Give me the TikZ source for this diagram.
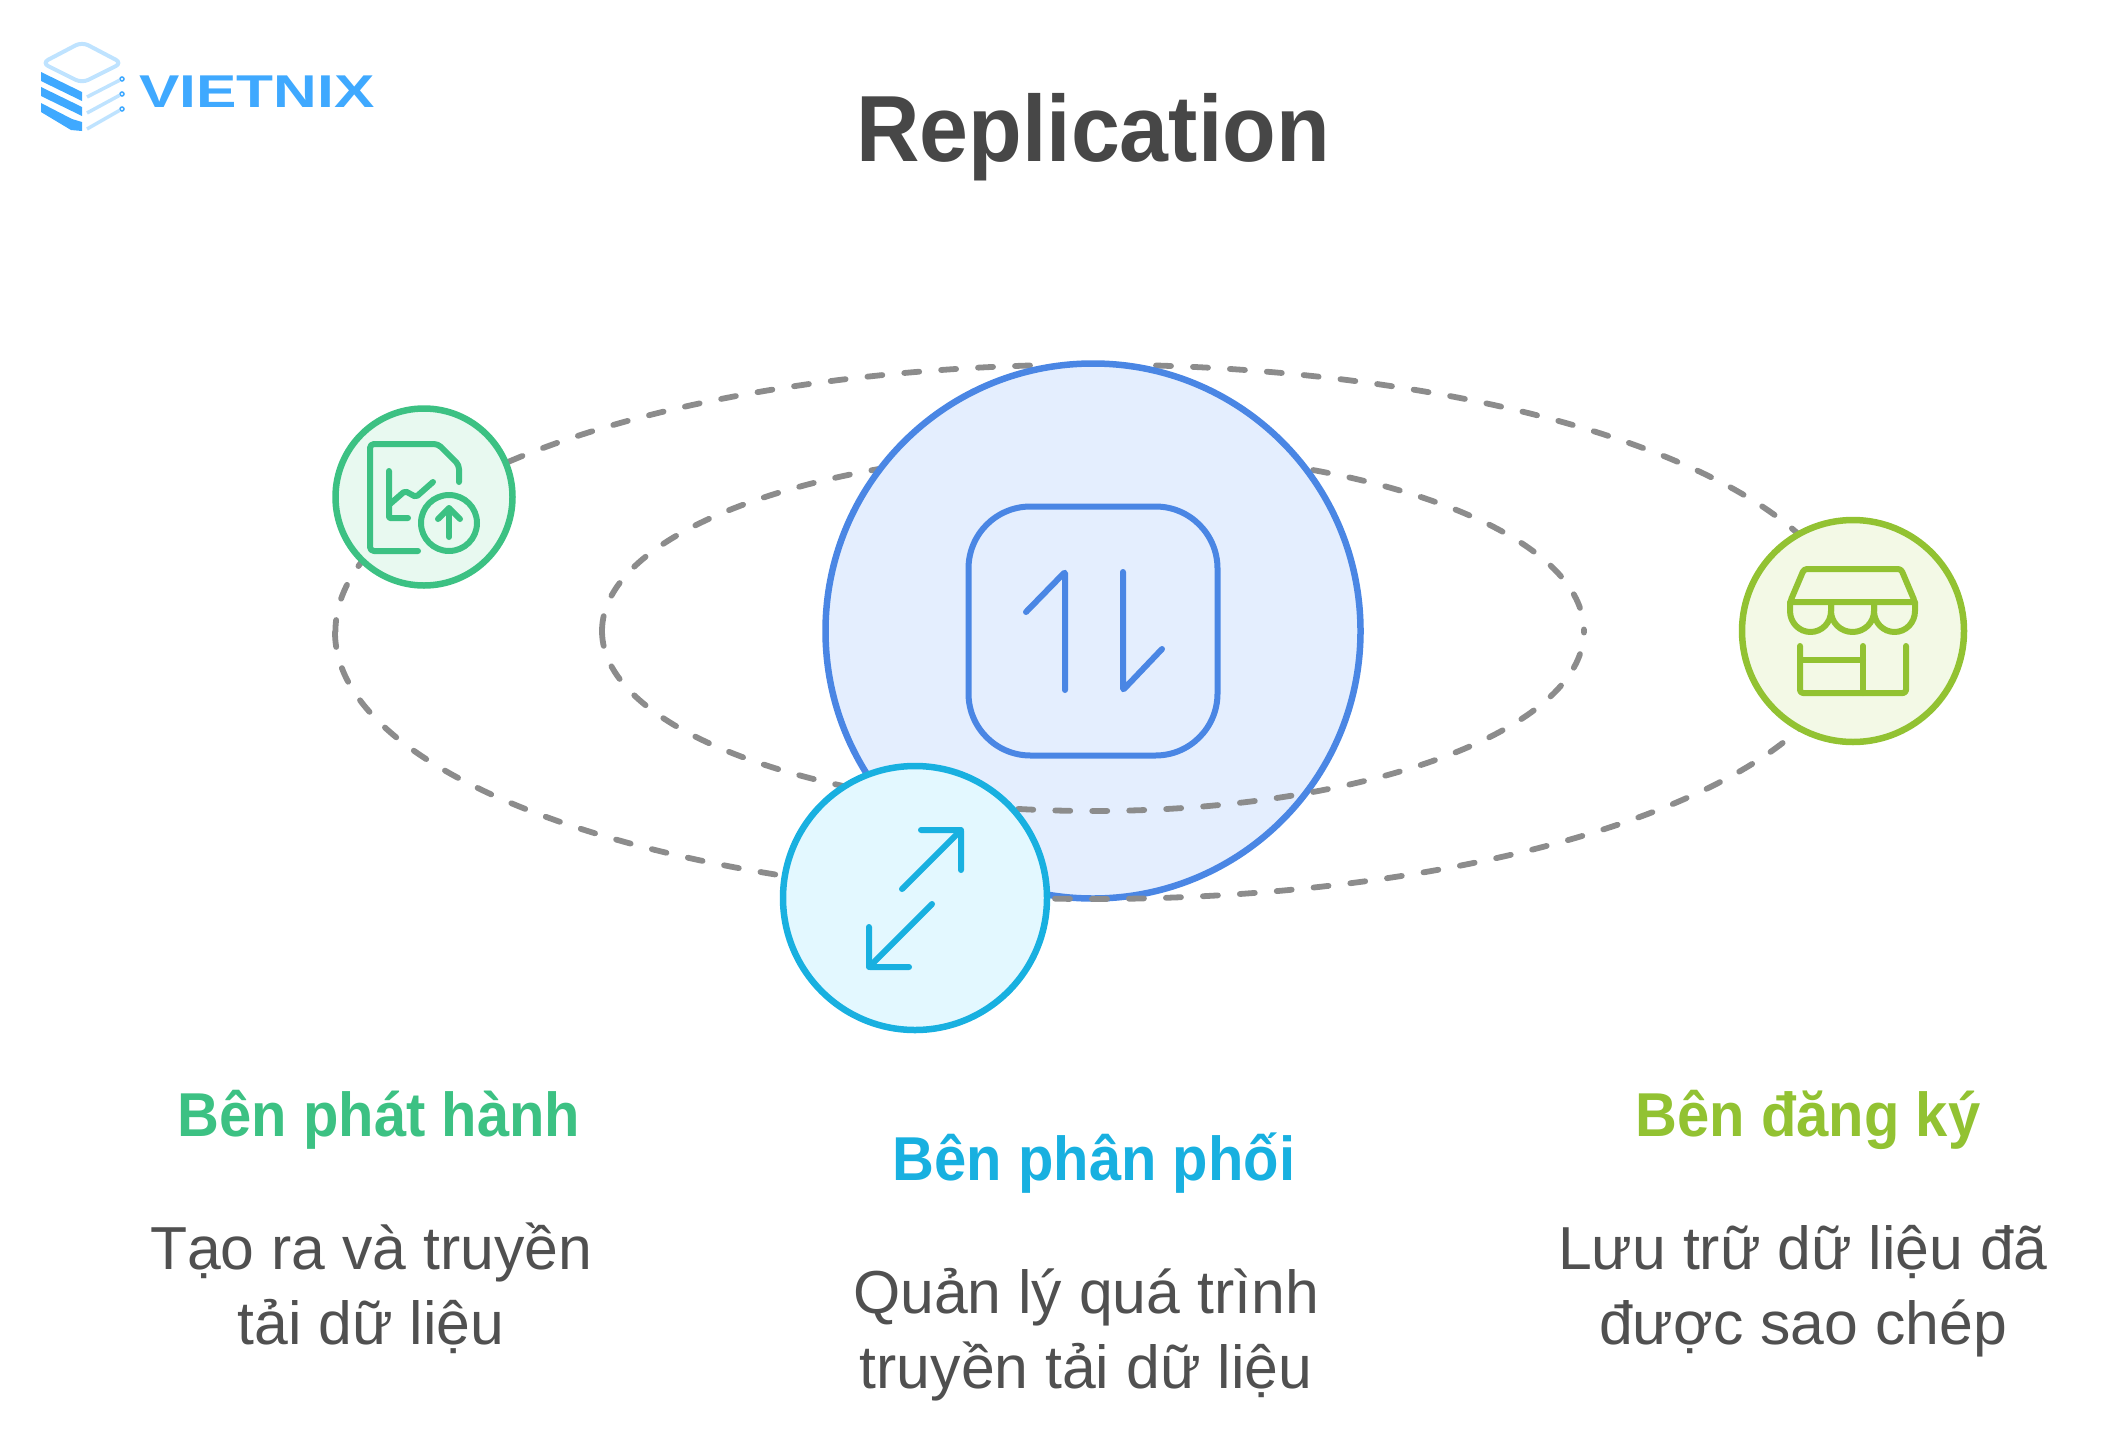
\documentclass[tikz,border=0pt]{standalone}
\usepackage{fontspec}
\setmainfont{Liberation Sans}
\newfontfamily\headfont{Liberation Sans}[FakeStretch=0.935]
\newfontfamily\brandfont{Liberation Sans}[FakeStretch=1.315]
\definecolor{inkTitle}{HTML}{474747}
\definecolor{inkBody}{HTML}{505050}
\definecolor{orbitGrey}{HTML}{8C8C8C}
\definecolor{hubBlue}{HTML}{4A86E4}
\definecolor{hubFill}{HTML}{E4EEFE}
\definecolor{pubGreen}{HTML}{3CC183}
\definecolor{pubFill}{HTML}{E8F9F0}
\definecolor{distCyan}{HTML}{18B0E0}
\definecolor{distFill}{HTML}{E3F8FF}
\definecolor{subLime}{HTML}{92C232}
\definecolor{subFill}{HTML}{F3F9E6}
\definecolor{logoBlue}{HTML}{3FA9FF}
\definecolor{logoPale}{HTML}{BFE3FF}
\tikzset{
    orbit/.style={draw=orbitGrey, line width=5.8pt, line cap=round, dash pattern=on 15pt off 22pt},
    disc/.style={circle, line width=6.5pt, inner sep=0pt},
    port/.style={circle, fill=white, draw=logoBlue, line width=1.5pt, inner sep=0pt, minimum size=4pt},
    glyph/.style={line width=6pt, line cap=round, line join=round, rounded corners=3pt},
    heading/.style={font=\fontsize{62}{75}\headfont\bfseries, anchor=base},
    blurb/.style={font=\fontsize{60.7}{75}\selectfont, text=inkBody, align=center, anchor=center}
}
\begin{document}
\begin{tikzpicture}[x=1pt,y=-1pt]
    \useasboundingbox (0,0) rectangle (2108,1445);

    \draw[line width=4pt, draw=logoPale, rounded corners=7pt] (42,63) -- (82,42) -- (122,63) -- (82,83) -- cycle;
    \fill[logoBlue] (41,72) -- (82,92) -- (82,101) -- (41,81) -- cycle;
    \fill[logoBlue] (41,87) -- (82,107) -- (82,116) -- (41,96) -- cycle;
    \fill[logoBlue] (41,103) -- (72,119) -- (82,122) -- (82,131) -- (71,130) -- (41,112) -- cycle;
    \foreach \i/\ya/\yb in {1/97/79, 2/113/94, 3/129/109} {
        \node[port] (port\i) at (122,\yb) {};
        \draw[line width=3.5pt, draw=logoPale] (87,\ya) -- (port\i);
    }
    \node[anchor=base, text=logoBlue, font=\fontsize{46}{46}\brandfont\bfseries] (brand) at (257,107) {VIETNIX};

    \node[anchor=base, text=inkTitle, font=\fontsize{94}{94}\headfont\bfseries] (title) at (1093,161) {Replication};

    \coordinate (center) at (1093,631);
    \draw[orbit] (1030,365.5) arc[start angle=265.2, end angle=180, x radius=758, y radius=267];
    \draw[orbit] (1156,365.5) arc[start angle=274.8, end angle=360, x radius=758, y radius=267];
    \draw[orbit] (602,631) arc[start angle=180, end angle=360, x radius=491, y radius=180];
    \node[disc, draw=hubBlue, fill=hubFill, minimum size=535pt] (hub) at (center) {};
    \draw[orbit] (335,632) arc[start angle=180, end angle=0, x radius=758, y radius=267];
    \draw[orbit] (602,631) arc[start angle=180, end angle=0, x radius=491, y radius=180];
    \node[disc, draw=pubGreen, fill=pubFill, minimum size=177pt] (pub) at (424,497) {};
    \node[disc, draw=distCyan, fill=distFill, minimum size=264pt] (dist) at (915,898) {};
    \node[disc, draw=subLime, fill=subFill, minimum size=222pt] (sub) at (1853,631) {};

    \node[draw=hubBlue, line width=6pt, rounded corners=62pt, minimum size=249pt, inner sep=0pt] (swap) at (center) {};
    \draw[glyph, draw=hubBlue, rounded corners=1pt] (1026,612) -- (1065,572) -- (1065,690);
    \draw[glyph, draw=hubBlue, rounded corners=1pt] (1123,572) -- (1123,690) -- (1162,649);

    \draw[glyph, draw=distCyan] (902,889) -- (961,830);
    \draw[glyph, draw=distCyan, rounded corners=1pt] (921,830) -- (961,830) -- (961,870);
    \draw[glyph, draw=distCyan] (932,904) -- (869,967);
    \draw[glyph, draw=distCyan, rounded corners=1pt] (869,927) -- (869,967) -- (909,967);

    \draw[glyph, draw=pubGreen, rounded corners=4pt] (418,551) -- (370,551) -- (370,444) -- (438,444) -- (459,465) -- (459,482);
    \draw[glyph, draw=pubGreen, rounded corners=1pt] (389,471) -- (389,518) -- (408,518);
    \draw[glyph, draw=pubGreen, rounded corners=2pt] (390,504) -- (405,491) -- (416,497) -- (433,482);
    \node[circle, draw=pubGreen, line width=6pt, inner sep=0pt, minimum size=56pt] (upload) at (449,523) {};
    \draw[glyph, draw=pubGreen] (449,537) -- (449,508);
    \draw[glyph, draw=pubGreen, rounded corners=1pt] (438,519) -- (449,508) -- (460,519);

    \draw[glyph, draw=subLime] (1790,602) -- (1804,569) -- (1901,569) -- (1915,602) -- cycle;
    \draw[glyph, draw=subLime, rounded corners=0pt] (1790,602) -- (1790,611) arc[start angle=180, end angle=0, x radius=20.5, y radius=21] -- (1831,602);
    \draw[glyph, draw=subLime, rounded corners=0pt] (1831,602) -- (1831,611) arc[start angle=180, end angle=0, x radius=21.5, y radius=21] -- (1874,602);
    \draw[glyph, draw=subLime, rounded corners=0pt] (1874,602) -- (1874,611) arc[start angle=180, end angle=0, x radius=20.5, y radius=21] -- (1915,602);
    \draw[glyph, draw=subLime] (1800,646) -- (1800,693) -- (1906,693) -- (1906,646);
    \draw[glyph, draw=subLime, rounded corners=0pt] (1863,646) -- (1863,693);
    \draw[glyph, draw=subLime, rounded corners=0pt] (1800,660) -- (1863,660);

    \node[heading, text=pubGreen] (pubHead) at (379,1136) {Bên phát hành};
    \node[blurb] (pubText) at (371,1288) {Tạo ra và truyền\\tải dữ liệu};
    \node[heading, text=distCyan] (distHead) at (1094,1180) {Bên phân phối};
    \node[blurb] (distText) at (1086,1335) {Quản lý quá trình\\truyền tải dữ liệu};
    \node[heading, text=subLime] (subHead) at (1808,1136) {Bên đăng ký};
    \node[blurb] (subText) at (1803,1291) {Lưu trữ dữ liệu đã\\được sao chép};
\end{tikzpicture}
\end{document}
